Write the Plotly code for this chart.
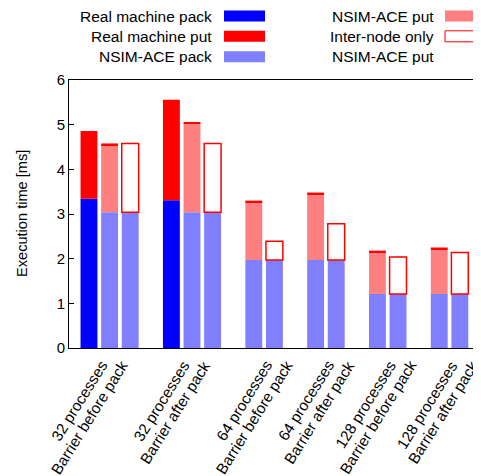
import plotly.graph_objects as go

# ---- data ----
proc_labels = ["32 processes", "32 processes", "64 processes",
               "64 processes", "128 processes", "128 processes"]
barrier_labels = ["Barrier before pack", "Barrier after pack", "Barrier before pack",
                  "Barrier after pack", "Barrier before pack", "Barrier after pack"]
has_real = [True, True, False, False, False, False]
real_pack = [3.34, 3.31]
real_put = [1.52, 2.25]
nsim_pack = [3.04, 3.04, 1.97, 1.97, 1.21, 1.21]
nsim_put = [1.50, 1.98, 1.29, 1.47, 0.93, 1.00]
nsim_put_red = [0.04, 0.04, 0.04, 0.04, 0.04, 0.04]
internode = [1.54, 1.54, 0.42, 0.81, 0.83, 0.93]

# ---- positions (slots) ----
x_real, x_nsim, x_inter, ticks = [], [], [], []
slot = 0
for g, hr in enumerate(has_real):
    ticks.append(slot + 1)
    if hr:
        x_real.append(slot)
        slot += 1
    x_nsim.append(slot)
    slot += 1
    x_inter.append(slot)
    slot += 2

W = 0.82
BLUE, RED, LBLUE, PINK = "#0000ff", "#ff0000", "#8080ff", "#ff8080"
FONT = "Liberation Sans, Arial, sans-serif"

fig = go.Figure()
def bar(x, y, color, base=None, line=None, fill=None):
    fig.add_trace(go.Bar(
        x=x, y=y, base=base, width=W, showlegend=False,
        marker=dict(color=fill if fill else color,
                    line=dict(width=line if line else 0, color=RED)),
    ))

bar(x_real, real_pack, BLUE)
bar(x_real, real_put, RED, base=real_pack)
bar(x_nsim, nsim_pack, LBLUE)
bar(x_nsim, nsim_put, PINK, base=nsim_pack)
bar(x_nsim, nsim_put_red, RED,
    base=[a + b for a, b in zip(nsim_pack, nsim_put)])
bar(x_inter, nsim_pack, LBLUE)
bar(x_inter, internode, RED, base=nsim_pack, line=1.5, fill="rgba(255,255,255,1)")

# page has an 8px body margin: figure sized to the visible area
fig.update_layout(
    width=473, height=468,
    margin=dict(l=61, r=2, t=72, b=128, autoexpand=False),
    barmode="overlay",
    plot_bgcolor="white", paper_bgcolor="white",
    font=dict(family=FONT, size=15, color="black"),
)
fig.update_xaxes(
    range=[-0.97, 18.93], showticklabels=False, automargin=False,
    showline=True, mirror=True, linecolor="black", linewidth=1,
    ticks="", showgrid=False, zeroline=False,
)
fig.update_yaxes(
    range=[0, 6], dtick=1, ticks="inside", ticklen=5, tickcolor="black",
    showline=True, mirror="ticks", linecolor="black", linewidth=1,
    showgrid=False, zeroline=False, automargin=False,
)

# reference-pixel -> paper helpers
def px(xp):
    return (xp - 69) / 410
def py(yp):
    return (348 - yp) / 268

# y axis title
fig.add_annotation(x=px(22), y=py(214), xref="paper", yref="paper",
                   text="Execution time [ms]", textangle=-90, showarrow=False,
                   xanchor="center", yanchor="middle", font=dict(size=14.6))

# x tick labels (two rotated lines each)
ANG = -58
for t, l1, l2 in zip(ticks, proc_labels, barrier_labels):
    fig.add_annotation(x=t, y=py(355), xref="x", yref="paper", text=l1,
                       textangle=ANG, showarrow=False, xanchor="right",
                       yanchor="top", xshift=4, font=dict(size=15.3))
    fig.add_annotation(x=t, y=py(355), xref="x", yref="paper", text=l2,
                       textangle=ANG, showarrow=False, xanchor="right",
                       yanchor="top", xshift=24, font=dict(size=15.3))

# ---- manual legend ----
legend = [
    ("Real machine pack", BLUE, None, 0, 0),
    ("Real machine put", RED, None, 0, 1),
    ("NSIM-ACE pack", LBLUE, None, 0, 2),
    ("NSIM-ACE put", PINK, None, 1, 0),
    ("Inter-node only", "white", RED, 1, 1),
    ("NSIM-ACE put", None, None, 1, 2),
]
row_y = [16, 36.3, 56.7]
col_text = [214, 436]
col_sw = [(224, 265), (445, 495)]
for text, fillc, linec, col, row in legend:
    fig.add_annotation(
        x=px(col_text[col]), y=py(row_y[row]), xref="paper", yref="paper",
        text=text, showarrow=False, xanchor="right", yanchor="middle",
        font=dict(size=15.5),
    )
    if fillc:
        x0, x1 = col_sw[col]
        fig.add_shape(
            type="rect", xref="paper", yref="paper",
            x0=px(x0), x1=px(x1), y0=py(row_y[row] - 5.5), y1=py(row_y[row] + 5.5),
            fillcolor=fillc, line=dict(width=1 if linec else 0, color=linec or fillc),
        )

fig.write_html("out.html")
